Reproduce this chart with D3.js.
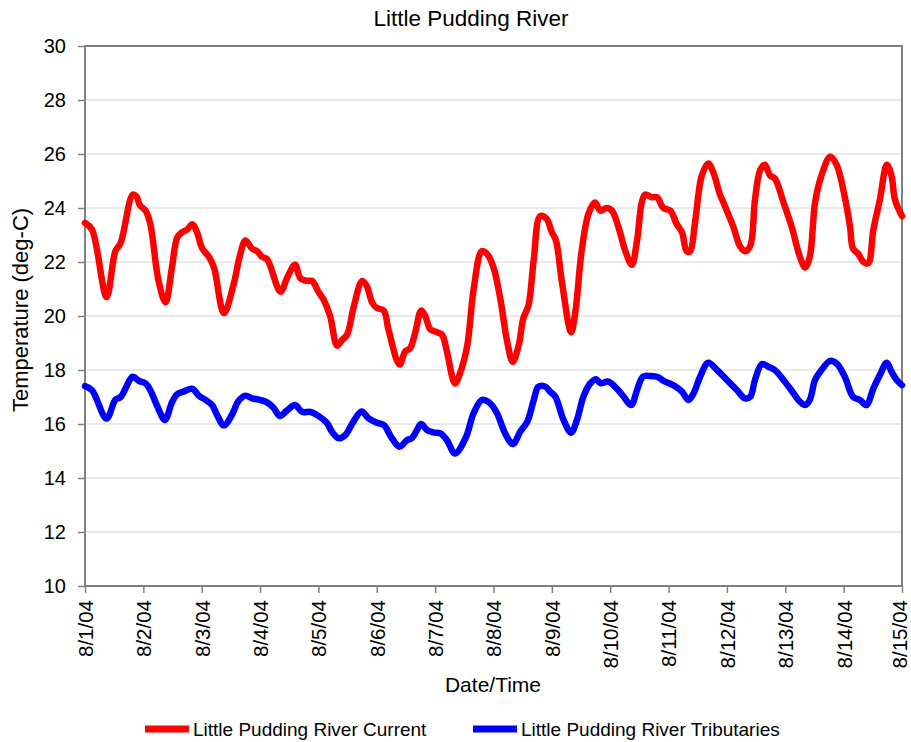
<!DOCTYPE html>
<html><head><meta charset="utf-8">
<script src="https://cdn.jsdelivr.net/npm/d3@7"></script>
<style>
body{margin:0;background:#fff}
svg text{font-family:"Liberation Sans",Arial,sans-serif;fill:#000}
</style>
</head><body>
<svg id="chart" width="911" height="742"></svg>
<script>
const chartTitle = "Little Pudding River";
const xTitle = "Date/Time";
const yTitle = "Temperature (deg-C)";
const seriesNames = ["Little Pudding River Current", "Little Pudding River Tributaries"];
const seriesColors = ["#ff0000", "#0000ff"];

// days since 8/1/04 00:00
const currentDays = [0,0.12,0.37,0.52,0.61,0.82,0.89,0.94,1.04,1.12,1.26,1.38,1.49,1.58,1.66,1.75,1.84,1.92,2.01,2.12,2.21,2.38,2.55,2.65,2.75,2.86,2.95,3.03,3.12,3.35,3.46,3.60,3.69,3.81,3.89,4.00,4.09,4.20,4.32,4.40,4.49,4.60,4.75,4.83,4.92,5.00,5.12,5.20,5.39,5.49,5.57,5.66,5.76,5.83,5.92,6.03,6.12,6.20,6.34,6.43,6.55,6.66,6.80,6.89,7.00,7.12,7.23,7.33,7.43,7.51,7.60,7.69,7.80,7.91,8.00,8.07,8.17,8.33,8.40,8.51,8.63,8.74,8.83,8.94,9.03,9.14,9.26,9.37,9.46,9.54,9.60,9.71,9.80,9.91,10.03,10.14,10.23,10.31,10.37,10.45,10.57,10.68,10.77,10.88,10.94,11.11,11.22,11.31,11.40,11.48,11.57,11.65,11.74,11.82,11.97,12.11,12.25,12.34,12.42,12.51,12.62,12.77,12.88,13.02,13.11,13.16,13.25,13.34,13.42,13.51,13.62,13.74,13.82,13.88,14.00];
const currentTemps = [23.45,23.2,20.7,22.4,22.7,24.5,24.4,24.1,23.9,23.4,21.3,20.5,21.8,22.9,23.1,23.2,23.4,23.1,22.5,22.2,21.8,20.1,21.2,22.2,22.8,22.5,22.4,22.2,22.1,20.9,21.4,21.9,21.4,21.3,21.3,20.9,20.6,20.0,18.9,19.1,19.3,20.3,21.3,21.1,20.5,20.3,20.2,19.5,18.2,18.7,18.8,19.4,20.2,20.0,19.5,19.4,19.3,18.7,17.5,17.9,18.9,21.0,22.4,22.3,21.8,20.6,19.1,18.3,18.9,19.9,20.4,22.1,23.7,23.6,23.1,22.8,21.3,19.4,20.1,22.4,23.8,24.2,23.9,24.0,23.9,23.3,22.4,21.9,22.8,24.2,24.5,24.4,24.4,24.0,23.9,23.4,23.1,22.4,22.4,23.4,25.2,25.65,25.3,24.5,24.2,23.3,22.6,22.4,22.6,24.3,25.4,25.6,25.2,25.1,24.2,23.3,22.2,21.8,22.2,24.2,25.2,25.9,25.6,24.4,23.3,22.5,22.3,22.0,21.95,23.2,24.3,25.6,25.2,24.3,23.7];

const tribDays = [0,0.12,0.37,0.52,0.61,0.82,0.92,1.04,1.12,1.24,1.37,1.49,1.58,1.69,1.84,1.95,2.06,2.18,2.26,2.38,2.52,2.63,2.75,2.86,2.98,3.12,3.23,3.34,3.46,3.60,3.72,3.86,4.00,4.15,4.23,4.35,4.46,4.60,4.74,4.86,5.00,5.12,5.26,5.39,5.52,5.60,5.69,5.76,5.86,5.97,6.09,6.20,6.34,6.52,6.66,6.80,6.94,7.06,7.20,7.33,7.46,7.58,7.69,7.77,7.89,7.97,8.06,8.20,8.33,8.43,8.54,8.66,8.76,8.83,8.97,9.11,9.23,9.36,9.46,9.56,9.68,9.80,9.94,10.08,10.23,10.34,10.43,10.54,10.68,10.83,11.00,11.17,11.31,11.40,11.48,11.60,11.71,11.82,11.97,12.14,12.25,12.34,12.42,12.51,12.62,12.77,12.88,13.02,13.16,13.28,13.39,13.51,13.62,13.74,13.82,13.91,14.00];
const tribTemps = [17.4,17.25,16.2,16.9,17.0,17.75,17.6,17.5,17.25,16.65,16.15,16.8,17.1,17.2,17.3,17.05,16.9,16.7,16.35,15.95,16.35,16.85,17.05,16.95,16.9,16.8,16.6,16.3,16.5,16.7,16.45,16.45,16.3,16.03,15.72,15.47,15.59,16.09,16.46,16.21,16.05,15.96,15.47,15.16,15.41,15.47,15.78,16.0,15.78,15.69,15.65,15.41,14.91,15.47,16.4,16.89,16.77,16.4,15.65,15.26,15.72,16.09,16.89,17.38,17.38,17.2,17.01,16.15,15.68,16.15,17.01,17.51,17.66,17.51,17.57,17.32,17.01,16.7,17.26,17.75,17.78,17.75,17.57,17.44,17.2,16.89,17.14,17.75,18.27,18.0,17.63,17.26,16.95,17.01,17.63,18.22,18.12,18.0,17.63,17.14,16.83,16.7,16.89,17.63,18.0,18.34,18.24,17.75,17.01,16.89,16.7,17.32,17.81,18.27,17.94,17.63,17.44];

const yTicks = [10,12,14,16,18,20,22,24,26,28,30];
const dateLabels = ["8/1/04","8/2/04","8/3/04","8/4/04","8/5/04","8/6/04","8/7/04","8/8/04","8/9/04","8/10/04","8/11/04","8/12/04","8/13/04","8/14/04","8/15/04"];

const svg = d3.select("#chart");
const L = 85, R = 902, T = 46, B = 586;
const FONT = '"Liberation Sans",Arial,sans-serif';
const start = new Date(2004, 7, 1);
const toDate = d => new Date(start.getTime() + d * 86400000);
const tickDates = dateLabels.map((s, i) => toDate(i));

const x = d3.scaleTime().domain([toDate(0), toDate(14)]).range([L, R]);
const y = d3.scaleLinear().domain([10, 30]).range([B, T]);

// gridlines
svg.append("g").selectAll("line").data(yTicks.filter(v => v > 10 && v < 30)).join("line")
  .attr("x1", L).attr("x2", R).attr("y1", d => y(d)).attr("y2", d => y(d))
  .attr("stroke", "#d4d4d4").attr("stroke-width", 1.2);

// y axis
const yAxis = svg.append("g").attr("transform", `translate(${L},0)`)
  .call(d3.axisLeft(y).tickValues(yTicks).tickSize(7).tickPadding(12).tickFormat(d3.format("d")));
yAxis.select(".domain").remove();
yAxis.selectAll("line").attr("stroke", "#808080").attr("stroke-width", 1.5);
yAxis.selectAll("text").attr("font-size", 20).attr("font-family", FONT);

// x axis
const xAxis = svg.append("g").attr("transform", `translate(0,${B})`)
  .call(d3.axisBottom(x).tickValues(tickDates).tickSize(7).tickFormat((d, i) => dateLabels[i]));
xAxis.select(".domain").remove();
xAxis.selectAll("line").attr("stroke", "#808080").attr("stroke-width", 1.5);
xAxis.selectAll("text")
  .attr("font-size", 20.5).attr("font-family", FONT)
  .attr("transform", "rotate(-90)")
  .attr("text-anchor", "end")
  .attr("x", -14).attr("y", 0)
  .attr("dy", (d, i) => i === dateLabels.length - 1 ? "0.2em" : "0.36em");

// plot border
svg.append("rect").attr("x", L).attr("y", T).attr("width", R - L).attr("height", B - T)
  .attr("fill", "none").attr("stroke", "#808080").attr("stroke-width", 2);

// lines
const line = d3.line().x(d => x(d[0])).y(d => y(d[1])).curve(d3.curveCatmullRom.alpha(0.5));
const series = [
  currentDays.map((d, i) => [toDate(d), currentTemps[i]]),
  tribDays.map((d, i) => [toDate(d), tribTemps[i]])
];
series.forEach((s, i) => {
  svg.append("path").datum(s).attr("d", line)
    .attr("fill", "none").attr("stroke", seriesColors[i]).attr("stroke-width", 6.5)
    .attr("stroke-linejoin", "round").attr("stroke-linecap", "round");
});

// titles
svg.append("text").attr("x", 471).attr("y", 26).attr("text-anchor", "middle")
  .attr("font-size", 22.5).text(chartTitle);
svg.append("text").attr("x", 493).attr("y", 692).attr("text-anchor", "middle")
  .attr("font-size", 21).text(xTitle);
svg.append("text").attr("transform", "translate(28,310) rotate(-90)").attr("text-anchor", "middle")
  .attr("font-size", 22).text(yTitle);

// legend
const legendX = [145, 473];
seriesNames.forEach((n, i) => {
  const g = svg.append("g").attr("transform", `translate(${legendX[i]},729)`);
  g.append("line").attr("x1", 0).attr("x2", 44).attr("y1", 0).attr("y2", 0)
    .attr("stroke", seriesColors[i]).attr("stroke-width", 7);
  g.append("text").attr("x", 48).attr("y", 7).attr("font-size", 19).text(n);
});
</script>
</body></html>
